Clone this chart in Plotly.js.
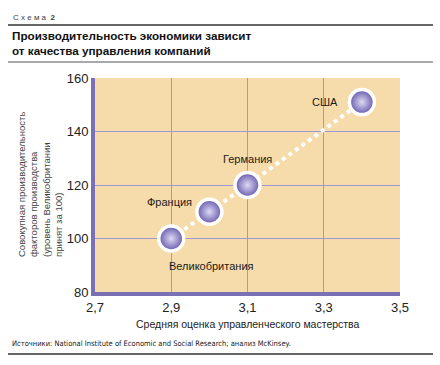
<!DOCTYPE html>
<html>
<head>
<meta charset="utf-8">
<script src="https://cdn.plot.ly/plotly-3.0.1.min.js"></script>
<style>html,body{margin:0;padding:0;background:#fff}#chart{width:440px;height:365px}</style>
</head>
<body>
<div id="chart"></div>
<script>
const countries = ["Великобритания", "Франция", "Германия", "США"];
const managementScore = [2.9, 3.0, 3.1, 3.4];
const productivity = [100, 110, 120, 151];
const xTicks = [2.7, 2.9, 3.1, 3.3, 3.5];
const yTicks = [80, 100, 120, 140, 160];
const chartLabel = "С х е м а  <b>2</b>";
const chartTitle = "<b>Производительность экономики зависит<br>от качества управления компаний</b>";
const xTitle = "Средняя оценка управленческого мастерства";
const yTitle = "Совокупная производительность<br>факторов производства<br>(уровень Великобритании<br>принят за 100)";
const sourceText = "Источники: National Institute of Economic and Social Research; анализ McKinsey.";

// label offsets (pixels) per country
const labelShift = [[40, -27], [-40, 10], [0, 26], [-37, 0]];

const W = 440, H = 365, L = 95, R = 40, T = 78, B = 73;
const pw = W - L - R, ph = H - T - B;
const px = x => (x - L) / pw;
const py = y => (H - B - y) / ph;

const trace = {
  x: managementScore, y: productivity, type: 'scatter', mode: 'lines+markers',
  line: {color: '#ffffff', width: 4, dash: 'dot'},
  marker: {size: 25, color: '#6357ab', line: {color: '#ffffff', width: 3.5},
           gradient: {type: 'radial', color: '#dedaf3'}},
  hoverinfo: 'skip', cliponaxis: false
};

const annotations = countries.map((c, i) => ({
  x: managementScore[i], y: productivity[i], xref: 'x', yref: 'y',
  text: c, showarrow: false, xshift: labelShift[i][0], yshift: labelShift[i][1],
  font: {family: 'Liberation Sans, Arial, sans-serif', size: 11, color: '#1a1a1a'}
}));
annotations.push(
  {xref: 'paper', yref: 'paper', x: px(11), y: py(18), xanchor: 'left', yanchor: 'middle',
   text: chartLabel, showarrow: false, font: {family: 'Liberation Sans, Arial, sans-serif', size: 8, color: '#444'}},
  {xref: 'paper', yref: 'paper', x: px(10), y: py(43), xanchor: 'left', yanchor: 'middle', align: 'left',
   text: chartTitle, showarrow: false, font: {family: 'Liberation Sans, Arial, sans-serif', size: 11.7, color: '#111'}},
  {xref: 'paper', yref: 'paper', x: px(40), y: 0.5, xanchor: 'center', yanchor: 'middle', align: 'left',
   textangle: -90, text: yTitle, showarrow: false, font: {family: 'Liberation Sans, Arial, sans-serif', size: 9.5, color: '#444'}},
  {xref: 'paper', yref: 'paper', x: 0.5, y: py(324), xanchor: 'center', yanchor: 'middle',
   text: xTitle, showarrow: false, font: {family: 'Liberation Sans, Arial, sans-serif', size: 10.5, color: '#222'}},
  {xref: 'paper', yref: 'paper', x: px(10), y: py(343), xanchor: 'left', yanchor: 'middle',
   text: sourceText, showarrow: false, font: {family: 'Liberation Sans Narrow, DejaVu Sans Condensed, Arial, sans-serif', size: 7.5, color: '#222'}}
);

const shapes = [
  {type: 'line', xref: 'paper', yref: 'paper', x0: px(8), x1: px(433), y0: py(25), y1: py(25), line: {color: '#333', width: 1.5}},
  {type: 'line', xref: 'paper', yref: 'paper', x0: px(8), x1: px(433), y0: py(62), y1: py(62), line: {color: '#555', width: 1}},
  {type: 'line', xref: 'paper', yref: 'paper', x0: px(8), x1: px(433), y0: py(354), y1: py(354), line: {color: '#333', width: 1.5}}
];

const layout = {
  width: W, height: H, margin: {l: L, r: R, t: T, b: B},
  paper_bgcolor: '#ffffff', plot_bgcolor: '#f6dcaa', showlegend: false,
  separators: ', ',
  font: {family: 'Liberation Sans, Arial, sans-serif', color: '#222'},
  xaxis: {range: [2.7, 3.5], tickvals: xTicks, ticktext: xTicks.map(v => v.toFixed(1).replace('.', ',')),
          showgrid: true, gridcolor: '#a097d6', gridwidth: 1, zeroline: false,
          showline: true, linecolor: '#7b6fb6', linewidth: 4, ticks: '',
          tickfont: {size: 13, color: '#222'}, fixedrange: true},
  yaxis: {range: [80, 160], tickvals: yTicks, showgrid: true, gridcolor: '#a097d6', gridwidth: 1, zeroline: false,
          showline: true, linecolor: '#7b6fb6', linewidth: 4, ticks: '',
          tickfont: {size: 13, color: '#222'}, fixedrange: true},
  annotations: annotations, shapes: shapes
};

Plotly.newPlot('chart', [trace], layout, {displayModeBar: false, staticPlot: true});
</script>
</body>
</html>
